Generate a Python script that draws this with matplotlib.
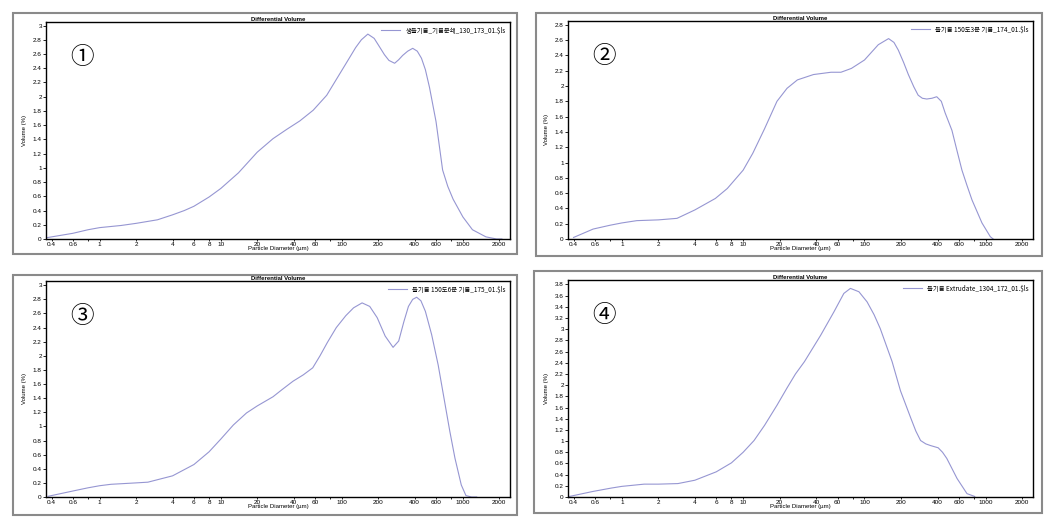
import matplotlib
matplotlib.use("Agg")
import matplotlib.pyplot as plt
from matplotlib.patches import Rectangle
from matplotlib.ticker import FuncFormatter, NullLocator

plt.rcParams['font.family'] = ['Liberation Sans', 'Noto Sans CJK KR', 'DejaVu Sans']

# Data
d1 = [0.37, 0.6, 0.8, 1, 1.5, 2, 3, 4, 5, 6, 8, 10, 14, 20, 27, 35, 45, 58, 75, 100, 115, 130, 145,
      164, 185, 205, 225, 245, 273, 295, 318, 350, 385, 420, 455, 490, 530, 600, 680, 750, 830,
      1000, 1200, 1550, 1900, 2100]
v1 = [0.02, 0.08, 0.13, 0.16, 0.19, 0.22, 0.27, 0.34, 0.40, 0.46, 0.59, 0.71, 0.93, 1.22, 1.41,
      1.54, 1.66, 1.81, 2.02, 2.37, 2.54, 2.69, 2.80, 2.88, 2.82, 2.70, 2.59, 2.51, 2.47, 2.52,
      2.58, 2.64, 2.68, 2.64, 2.54, 2.38, 2.13, 1.65, 0.97, 0.74, 0.56, 0.31, 0.13, 0.03, 0.0, 0.0]

d2 = [0.4, 0.58, 0.8, 1, 1.33, 2, 2.85, 4, 5.9, 7.4, 10, 12, 15, 19, 23, 28, 38, 53, 64, 78,
      100, 130, 158, 175, 190, 210, 230, 255, 277, 300, 326, 360, 394, 430, 462, 526, 580, 636,
      700, 770, 930, 1090, 1150]
v2 = [0.02, 0.13, 0.18, 0.21, 0.24, 0.25, 0.27, 0.38, 0.53, 0.66, 0.90, 1.12, 1.44, 1.80, 1.97,
      2.08, 2.15, 2.18, 2.18, 2.23, 2.34, 2.54, 2.62, 2.57, 2.47, 2.31, 2.15, 1.99, 1.88, 1.84,
      1.83, 1.84, 1.86, 1.80, 1.65, 1.42, 1.15, 0.90, 0.70, 0.51, 0.21, 0.03, 0.0]

d3 = [0.375, 0.62, 0.8, 1, 1.24, 2, 2.5, 4, 6, 8, 10, 12.7, 16.3, 20, 27, 32, 39.5, 48, 57.5, 66,
      76, 90, 108, 125, 147, 170, 196, 228, 265, 295, 325, 355, 385, 415, 450, 490, 552, 625, 690,
      780, 860, 970, 1060, 1180, 1300]
v3 = [0.01, 0.09, 0.13, 0.16, 0.18, 0.20, 0.21, 0.30, 0.46, 0.64, 0.82, 1.02, 1.19, 1.29, 1.42,
      1.52, 1.64, 1.73, 1.83, 2.00, 2.19, 2.40, 2.57, 2.68, 2.75, 2.70, 2.54, 2.28, 2.12, 2.21,
      2.48, 2.70, 2.80, 2.83, 2.78, 2.63, 2.30, 1.87, 1.45, 0.93, 0.55, 0.17, 0.02, 0.0, 0.0]

d4 = [0.37, 0.58, 0.82, 1, 1.53, 2, 2.9, 4, 6, 8, 10, 12.3, 15, 19, 23, 27, 32, 43.5, 56, 67.6,
      76.6, 90, 105, 120, 135, 169, 198, 240, 265, 290, 320, 350, 405, 440, 477, 580, 700, 810]
v4 = [0.01, 0.10, 0.16, 0.19, 0.23, 0.23, 0.24, 0.30, 0.45, 0.61, 0.80, 1.01, 1.28, 1.64, 1.95,
      2.20, 2.42, 2.89, 3.31, 3.64, 3.73, 3.67, 3.49, 3.26, 3.01, 2.42, 1.90, 1.42, 1.18, 1.01,
      0.95, 0.92, 0.88, 0.80, 0.69, 0.33, 0.06, 0.01]

labels = ["생들기름_기름분쇄_130_173_01.\\$ls",
          "들기름 150도3분 기름_174_01.\\$ls",
          "들기름 150도6분 기름_175_01.\\$ls",
          "들기름 Extrudate_1304_172_01.\\$ls"]
marks = ["①", "②", "③", "④"]
ytops = [3.05, 2.85, 3.06, 3.88]

xticks = [0.4, 0.6, 0.8, 1, 2, 4, 6, 8, 10, 20, 40, 60, 80, 100, 200, 400, 600, 800, 1000, 2000]
xticklabels = ['0.4', '0.6', '', '1', '2', '4', '6', '8', '10', '20', '40', '60', '',
               '100', '200', '400', '600', '', '1000', '2000']

W, H = 1051, 523
fig = plt.figure(figsize=(W / 100, H / 100), dpi=100)

# pixel boxes (left, top, right, bottom) for axes and outer frames
axboxes = [(46, 22, 510, 239), (568, 21, 1033, 239), (46, 281, 510, 497), (568, 280, 1033, 497)]
frames = [(13, 13, 517, 254), (536, 13, 1042, 256), (13, 275, 517, 515), (534, 271, 1042, 513)]

series = [(d1, v1), (d2, v2), (d3, v3), (d4, v4)]
line_col = '#9696d2'
cjk = ['Noto Sans CJK KR', 'DejaVu Sans']

for i in range(4):
    l, t, r, b = axboxes[i]
    ax = fig.add_axes([l / W, 1 - b / H, (r - l) / W, (b - t) / H])
    x, y = series[i]
    ax.plot(x, y, color=line_col, lw=0.8, label=labels[i])
    ax.set_xscale('log')
    ax.set_xlim(0.36, 2450)
    ax.set_ylim(0, ytops[i])
    ax.set_xticks(xticks)
    ax.set_xticklabels(xticklabels)
    ax.xaxis.set_minor_locator(NullLocator())
    ytk = [k * 0.2 for k in range(int(round(ytops[i] / 0.2)) + 1) if k * 0.2 <= ytops[i] + 1e-9]
    ax.set_yticks(ytk)
    ax.yaxis.set_major_formatter(FuncFormatter(lambda v, p: '%g' % round(v, 1)))
    ax.tick_params(labelsize=4.6, length=2, width=0.6, pad=1)
    ax.tick_params(axis='x', length=1.5, pad=0.5)
    for s in ax.spines.values():
        s.set_linewidth(1.0)
    ax.set_title("Differential Volume", fontsize=4.3, fontweight='bold', pad=1.0)
    ax.set_xlabel("Particle Diameter (µm)", fontsize=4.3, labelpad=-0.5)
    ax.set_ylabel("Volume (%)", fontsize=4.3, labelpad=4)
    ax.legend(loc='upper right', frameon=False, handlelength=3, borderaxespad=0.3,
              prop={'family': cjk, 'size': 4.6})
    ax.text(0.077, 0.835, marks[i], transform=ax.transAxes, fontsize=17,
            ha='center', va='center', family=cjk, fontweight='light')

    fl, ft, fr, fb = frames[i]
    fig.add_artist(Rectangle((fl / W, 1 - fb / H), (fr - fl) / W, (fb - ft) / H,
                             transform=fig.transFigure, fill=False,
                             edgecolor='#8a8a8a', lw=1.5))

fig.savefig("out.png", dpi=100)
